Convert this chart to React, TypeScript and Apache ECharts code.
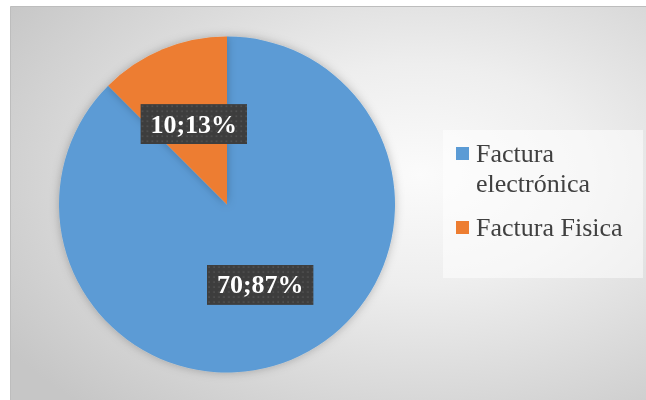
import React, { useEffect, useRef } from "react";
import * as echarts from "echarts";

const categories = ["Factura electrónica", "Factura Fisica"];
const values = [70, 10];
const pctLabels = [87, 13];
const colors = ["#5B9BD5", "#ED7D31"];

const FONT = "Liberation Serif";

const dotSvg =
  "<svg xmlns='http://www.w3.org/2000/svg' width='108' height='40'>" +
  "<defs><pattern id='p' width='5' height='5' patternUnits='userSpaceOnUse'>" +
  "<rect width='5' height='5' fill='#3d3d3d'/>" +
  "<rect x='1.5' y='1.5' width='1.3' height='1.3' fill='#5e5e5e'/>" +
  "</pattern></defs><rect width='108' height='40' fill='url(#p)'/></svg>";
const dotUrl = "data:image/svg+xml;charset=utf-8," + encodeURIComponent(dotSvg);

export default function App() {
  const ref = useRef<HTMLDivElement>(null);
  useEffect(() => {
    if (!ref.current) return;
    const chart = echarts.init(ref.current, undefined, { renderer: "svg" });
    const legendY = [147, 221];
    const legendGraphics: any[] = [
      {
        type: "rect",
        z: 5,
        shape: { x: 443, y: 130, width: 200, height: 148 },
        style: { fill: "rgba(255,255,255,0.5)" },
        silent: true,
      },
    ];
    categories.forEach((c, i) => {
      legendGraphics.push({
        type: "rect",
        z: 6,
        shape: { x: 456, y: legendY[i], width: 13, height: 13 },
        style: { fill: colors[i] },
      });
      legendGraphics.push({
        type: "text",
        z: 6,
        x: 476,
        y: legendY[i] - 9,
        style: {
          text: c,
          fill: "#404040",
          fontFamily: FONT,
          fontSize: 26,
          lineHeight: 30,
          width: 165,
          overflow: "break",
          verticalAlign: "top",
          align: "left",
        },
      });
    });
    chart.setOption({
      animation: false,
      graphic: [
        {
          type: "rect",
          z: -10,
          silent: true,
          shape: { x: 10.5, y: 6.5, width: 660, height: 420 },
          style: {
            fill: {
              type: "radial",
              x: 0.62,
              y: 0.4,
              r: 0.75,
              colorStops: [
                { offset: 0, color: "#fbfbfb" },
                { offset: 0.35, color: "#eeeeee" },
                { offset: 1, color: "#c6c6c6" },
              ],
            },
            stroke: "#bdbdbd",
            lineWidth: 1,
          },
        },
        ...legendGraphics,
      ],
      series: [
        {
          type: "pie",
          center: [227, 204.5],
          radius: 168,
          startAngle: 90,
          clockwise: true,
          itemStyle: {
            shadowBlur: 10,
            shadowColor: "rgba(0,0,0,0.25)",
          },
          label: {
            show: true,
            position: "inside",
            formatter: (p: any) => `${p.value};${pctLabels[p.dataIndex]}%`,
            fontFamily: FONT,
            fontWeight: "bold",
            fontSize: 26,
            lineHeight: 30,
            color: "#ffffff",
            backgroundColor: { image: dotUrl },
            padding: [5, 10, 5, 10],
            shadowBlur: 4,
            shadowOffsetX: 2,
            shadowOffsetY: 3,
            shadowColor: "rgba(0,0,0,0.45)",
          },
          labelLine: { show: false },
          emphasis: { disabled: true },
          data: categories.map((c, i) => ({
            name: c,
            value: values[i],
            itemStyle: { color: colors[i] },
          })),
        },
      ],
    });
    return () => chart.dispose();
  }, []);
  return (
    <div
      ref={ref}
      style={{ position: "fixed", left: 0, top: 0, width: 646, height: 400 }}
    />
  );
}
